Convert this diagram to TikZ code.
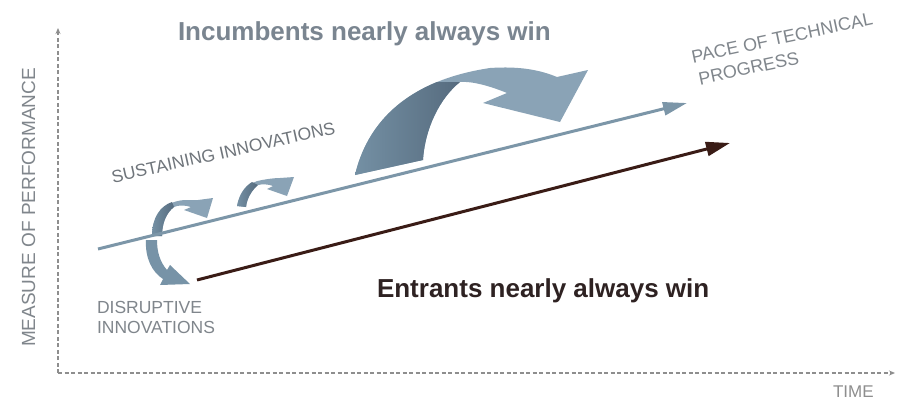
\documentclass[tikz,border=0pt]{standalone}
\usepackage{fontspec}
\setmainfont{Liberation Sans}
\usetikzlibrary{arrows.meta}
\definecolor{axisgray}{HTML}{8E8E8E}
\definecolor{labelgray}{HTML}{80868C}
\definecolor{susgray}{HTML}{6F757B}
\definecolor{incgray}{HTML}{7A8590}
\definecolor{entdark}{HTML}{2E2222}
\definecolor{bluelinec}{HTML}{7C96A8}
\definecolor{darklinec}{HTML}{3A1C16}
\definecolor{arrowlight}{HTML}{8AA3B6}
\definecolor{arrowdark}{HTML}{566B7E}
\definecolor{arrowmid}{HTML}{7490A4}
\begin{document}
\begin{tikzpicture}[x=1pt,y=-1pt,
  axisline/.style={draw=axisgray,line width=1.1pt,dash pattern=on 4pt off 2.5pt,-{Stealth[length=6pt,width=5pt]}},
  trendblue/.style={draw=bluelinec,line width=3pt,-{Triangle[length=24pt,width=13pt]}},
  trenddark/.style={draw=darklinec,line width=3pt,-{Triangle[length=24pt,width=14pt]}},
  txt/.style={inner sep=0pt,outer sep=0pt},
  bigtitle/.style={txt,font=\fontsize{26pt}{30pt}\selectfont\bfseries},
  smallcaps/.style={txt,font=\fontsize{17.5pt}{20pt}\selectfont},
  ribbon/.style={fill=arrowlight,draw=none},
  ribbonshade/.style={left color=arrowmid,right color=arrowdark,draw=none}
]
\useasboundingbox (0,0) rectangle (897,399);
\fill[white] (0,0) rectangle (897,399);

% axes
\coordinate (origin) at (58,373);
\coordinate (ytop) at (58,28);
\coordinate (xend) at (895,373);
\draw[axisline] (origin) -- (ytop);
\draw[axisline] (origin) -- (xend);

% big curved arrow
\path[ribbon] (355,175) .. controls (368,120) and (410,80) .. (490,68)
  .. controls (520,66) and (540,70) .. (557,77) -- (588,70) -- (560,122)
  -- (483,103) -- (507,93) .. controls (490,86) and (472,81) .. (460,82)
  .. controls (440,98) and (425,128) .. (423,160) -- cycle;
\path[ribbonshade] (355,175) .. controls (364.75,133.75) and (390.81,100.94) .. (437,82)
  -- (460,82) .. controls (440,98) and (425,128) .. (423,160) -- cycle;

% small upper-left arrow
\path[ribbon] (152,236) .. controls (152,215) and (165,201) .. (185,200) -- (198,200)
  -- (213,198) -- (207,218) -- (184,210) -- (191,207)
  .. controls (185,205) and (178,205) .. (174,207)
  .. controls (166,213) and (162,224) .. (162,236) -- cycle;
\path[ribbonshade] (152,236) .. controls (152,218) and (160,206) .. (172,202)
  -- (174,207) .. controls (166,213) and (162,224) .. (162,236) -- cycle;

% middle small arrow
\path[ribbon] (237,206) .. controls (240,192) and (248,182) .. (262,180)
  .. controls (268,179) and (274,178) .. (280,178) -- (294,177) -- (287,196)
  -- (267,189) -- (273,186) .. controls (268,184) and (262,184) .. (258,185)
  .. controls (252,190) and (247,198) .. (246,207) -- cycle;
\path[ribbonshade] (237,206) .. controls (239,195) and (244,187) .. (252,182)
  -- (258,185) .. controls (252,190) and (247,198) .. (246,207) -- cycle;

% lower disruptive arrow
\path[fill=arrowmid!85!arrowlight] (146,240) .. controls (145,258) and (152,272) .. (163,279)
  -- (160,285) -- (190,284) -- (170,265) -- (167,270)
  .. controls (160,262) and (157,252) .. (157,240) -- cycle;

% trend lines
\coordinate (s0) at (98,249);
\coordinate (s1) at (687,103);
\coordinate (e0) at (197,280);
\coordinate (e1) at (730,143);
\draw[trendblue] (s0) -- (s1);
\draw[trenddark] (e0) -- (e1);

% texts
\node[bigtitle,text=incgray,anchor=base west] (inc) at (178,40) {Incumbents nearly always win};
\node[bigtitle,text=entdark,anchor=base west] (ent) at (377,297) {Entrants nearly always win};
\node[smallcaps,text=susgray,anchor=base west,rotate=12.5] (sus) at (113,183) {SUSTAINING INNOVATIONS};
\node[txt,font=\fontsize{18pt}{20pt}\selectfont,text=labelgray,anchor=base west,rotate=12] (pace1) at (693,63) {PACE OF TECHNICAL};
\node[txt,font=\fontsize{18pt}{20pt}\selectfont,text=labelgray,anchor=base west,rotate=12] (pace2) at (700,85) {PROGRESS};
\node[smallcaps,text=labelgray,anchor=base west] (dis1) at (97,313) {DISRUPTIVE};
\node[smallcaps,text=labelgray,anchor=base west] (dis2) at (97,333) {INNOVATIONS};
\node[txt,font=\fontsize{19pt}{22pt}\selectfont,text=labelgray,anchor=base,rotate=90] (ylab) at (35,207.5) {MEASURE OF PERFORMANCE};
\node[txt,font=\fontsize{17pt}{20pt}\selectfont,text=axisgray,anchor=base west] (xlab) at (833,397) {TIME};
\end{tikzpicture}
\end{document}
